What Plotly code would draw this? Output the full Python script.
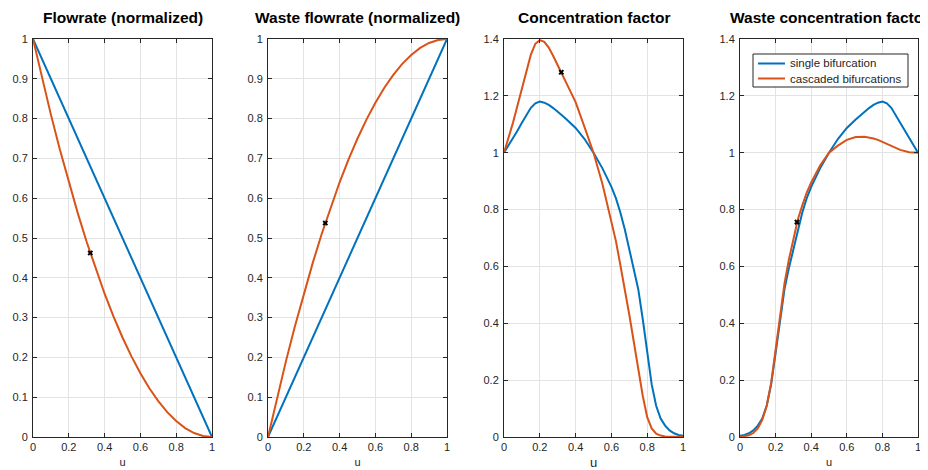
import plotly.graph_objects as go

# ---------------- data ----------------
u_lin = [0.0, 1.0]
flow_single = [1.0, 0.0]
waste_single = [0.0, 1.0]

u_q = [0.0, 0.05, 0.1, 0.15, 0.2, 0.25, 0.3, 0.35, 0.4, 0.45, 0.5,
       0.55, 0.6, 0.65, 0.7, 0.75, 0.8, 0.85, 0.9, 0.95, 1.0]
flow_cascaded = [1.0, 0.9025, 0.81, 0.7225, 0.64, 0.5625, 0.49, 0.4225, 0.36, 0.3025, 0.25,
                 0.2025, 0.16, 0.1225, 0.09, 0.0625, 0.04, 0.0225, 0.01, 0.0025, 0.0]
waste_cascaded = [0.0, 0.0975, 0.19, 0.2775, 0.36, 0.4375, 0.51, 0.5775, 0.64, 0.6975, 0.75,
                  0.7975, 0.84, 0.8775, 0.91, 0.9375, 0.96, 0.9775, 0.99, 0.9975, 1.0]

u_c = [0.0, 0.025, 0.05, 0.075, 0.1, 0.125, 0.15, 0.175, 0.2, 0.225, 0.25, 0.275,
       0.3, 0.325, 0.35, 0.375, 0.4, 0.45, 0.5, 0.55, 0.6, 0.625, 0.65, 0.675,
       0.7, 0.725, 0.75, 0.775, 0.8, 0.825, 0.85, 0.875, 0.9, 0.925, 0.95, 0.975, 1.0]
conc_single = [1.0, 1.025, 1.05, 1.077, 1.105, 1.133, 1.158, 1.174, 1.18, 1.176, 1.168, 1.157,
               1.145, 1.131, 1.117, 1.102, 1.087, 1.048, 1.0, 0.945, 0.88, 0.84, 0.79, 0.73,
               0.66, 0.595, 0.52, 0.415, 0.295, 0.185, 0.11, 0.065, 0.04, 0.023, 0.013, 0.007, 0.004]
conc_cascaded = [1.0, 1.052, 1.105, 1.165, 1.228, 1.29, 1.345, 1.383, 1.396, 1.39, 1.37, 1.34,
                 1.305, 1.275, 1.243, 1.213, 1.178, 1.09, 1.0, 0.89, 0.76, 0.69, 0.605, 0.52,
                 0.43, 0.335, 0.24, 0.145, 0.07, 0.03, 0.012, 0.005, 0.002, 0.001, 0.0, 0.0, 0.0]

u_w = [0.0, 0.025, 0.05, 0.075, 0.1, 0.125, 0.15, 0.175, 0.2, 0.225, 0.25, 0.275,
       0.3, 0.325, 0.35, 0.375, 0.4, 0.45, 0.5, 0.55, 0.6, 0.65, 0.7, 0.725, 0.75, 0.775,
       0.8, 0.825, 0.85, 0.9, 0.95, 1.0]
wconc_single = [0.004, 0.007, 0.013, 0.023, 0.04, 0.065, 0.11, 0.185, 0.295, 0.415, 0.52, 0.595,
                0.66, 0.73, 0.79, 0.84, 0.88, 0.945, 1.0, 1.048, 1.087, 1.117, 1.145, 1.157, 1.168, 1.176,
                1.18, 1.174, 1.158, 1.105, 1.05, 1.0]
wconc_cascaded = [0.0, 0.002, 0.006, 0.014, 0.03, 0.06, 0.11, 0.19, 0.31, 0.43, 0.54, 0.625,
                  0.70, 0.765, 0.815, 0.86, 0.895, 0.955, 1.0, 1.025, 1.045, 1.055, 1.056, 1.054, 1.05, 1.045,
                  1.038, 1.03, 1.022, 1.01, 1.002, 1.0]

op_u = [0.32]
op_flow = [0.4624]
op_waste = [0.5376]
op_conc = [1.283]
op_wconc = [0.756]

titles = ["Flowrate (normalized)", "Waste flowrate (normalized)",
          "Concentration factor", "Waste concentration factor"]
series_names = ["single bifurcation", "cascaded bifurcations"]
x_ticks = [0, 0.2, 0.4, 0.6, 0.8, 1]
x_ticktext = ["0", "0.2", "0.4", "0.6", "0.8", "1"]
y_ticks_a = [0, 0.1, 0.2, 0.3, 0.4, 0.5, 0.6, 0.7, 0.8, 0.9, 1]
y_ticktext_a = ["0", "0.1", "0.2", "0.3", "0.4", "0.5", "0.6", "0.7", "0.8", "0.9", "1"]
y_ticks_b = [0, 0.2, 0.4, 0.6, 0.8, 1, 1.2, 1.4]
y_ticktext_b = ["0", "0.2", "0.4", "0.6", "0.8", "1", "1.2", "1.4"]

# ---------------- styling ----------------
# The page body keeps its default 8 px margin, so the figure is 8 px smaller
# and every pixel position below is in figure space (screen minus 8).
W, H = 920, 462
BLUE = "#0072BD"
ORANGE = "#D95319"
AX = "#262626"
GRID = "#e3e3e3"
FONT = "Liberation Sans"

x_px = [(25, 204), (260, 439), (496, 675), (732, 910)]
y_top, y_bot = 31, 429
ydom = [1 - y_bot / H, 1 - y_top / H]

panels = [
    (u_lin, flow_single, u_q, flow_cascaded, op_flow, [0, 1], y_ticks_a, y_ticktext_a),
    (u_lin, waste_single, u_q, waste_cascaded, op_waste, [0, 1], y_ticks_a, y_ticktext_a),
    (u_c, conc_single, u_c, conc_cascaded, op_conc, [0, 1.4], y_ticks_b, y_ticktext_b),
    (u_w, wconc_single, u_w, wconc_cascaded, op_wconc, [0, 1.4], y_ticks_b, y_ticktext_b),
]

fig = go.Figure()
layout = dict(
    width=W, height=H, margin=dict(l=0, r=0, t=0, b=0, autoexpand=False),
    paper_bgcolor="white", plot_bgcolor="white",
    font=dict(family=FONT, size=11, color=AX),
    showlegend=False,
)
annotations = []
shapes = []

for i, (xs, ys, xc, yc, opy, yr, yt, ytt) in enumerate(panels):
    n = "" if i == 0 else str(i + 1)
    xa, ya = "x" + n, "y" + n
    fig.add_trace(go.Scatter(x=xs, y=ys, mode="lines", line=dict(color=BLUE, width=2),
                             name=series_names[0], xaxis=xa, yaxis=ya))
    fig.add_trace(go.Scatter(x=xc, y=yc, mode="lines", line=dict(color=ORANGE, width=2),
                             name=series_names[1], xaxis=xa, yaxis=ya))
    fig.add_trace(go.Scatter(x=op_u, y=opy, mode="markers",
                             marker=dict(symbol="x", size=5, color="black"),
                             xaxis=xa, yaxis=ya))
    x0, x1 = x_px[i]
    layout["xaxis" + n] = dict(
        domain=[x0 / W, x1 / W], anchor=ya, range=[0, 1], automargin=False,
        tickvals=x_ticks, ticktext=x_ticktext, ticks="inside", ticklen=4,
        tickcolor=AX, showline=True, linecolor=AX, linewidth=1, mirror="ticks",
        showgrid=True, gridcolor=GRID, gridwidth=1, zeroline=False,
        tickfont=dict(size=11, color=AX),
        title=dict(text="u", font=dict(size=13 if i == 2 else 11, color=AX), standoff=6),
    )
    layout["yaxis" + n] = dict(
        domain=ydom, anchor=xa, range=yr, automargin=False,
        tickvals=yt, ticktext=ytt, ticks="inside", ticklen=4,
        tickcolor=AX, showline=True, linecolor=AX, linewidth=1, mirror="ticks",
        showgrid=True, gridcolor=GRID, gridwidth=1, zeroline=False,
        tickfont=dict(size=11, color=AX), ticklabelstandoff=2,
    )
    annotations.append(dict(
        text="<b>" + titles[i] + "</b>", x=(x0 + x1) / 2 / W, y=1 - 9.5 / H,
        xref="paper", yref="paper", xanchor="center", yanchor="middle",
        showarrow=False, font=dict(family=FONT, size=15.5, color="black"),
    ))

# legend box drawn in the last panel (figure-pixel layout)
lg_x0, lg_x1, lg_y0, lg_y1 = 745, 900, 46, 79
shapes.append(dict(type="rect", xref="paper", yref="paper",
                   x0=lg_x0 / W, x1=lg_x1 / W, y0=1 - lg_y1 / H, y1=1 - lg_y0 / H,
                   line=dict(color=AX, width=1), fillcolor="white", layer="above"))
for k, (name, col) in enumerate(zip(series_names, [BLUE, ORANGE])):
    yy = 55.5 + 15 * k
    shapes.append(dict(type="line", xref="paper", yref="paper",
                       x0=750 / W, x1=777 / W, y0=1 - yy / H, y1=1 - yy / H,
                       line=dict(color=col, width=2), layer="above"))
    annotations.append(dict(text=name, x=780 / W, y=1 - yy / H, xref="paper", yref="paper",
                            xanchor="left", yanchor="middle", showarrow=False,
                            font=dict(family=FONT, size=11.5, color=AX)))

layout["annotations"] = annotations
layout["shapes"] = shapes
fig.update_layout(**layout)
fig.write_html("out.html")
